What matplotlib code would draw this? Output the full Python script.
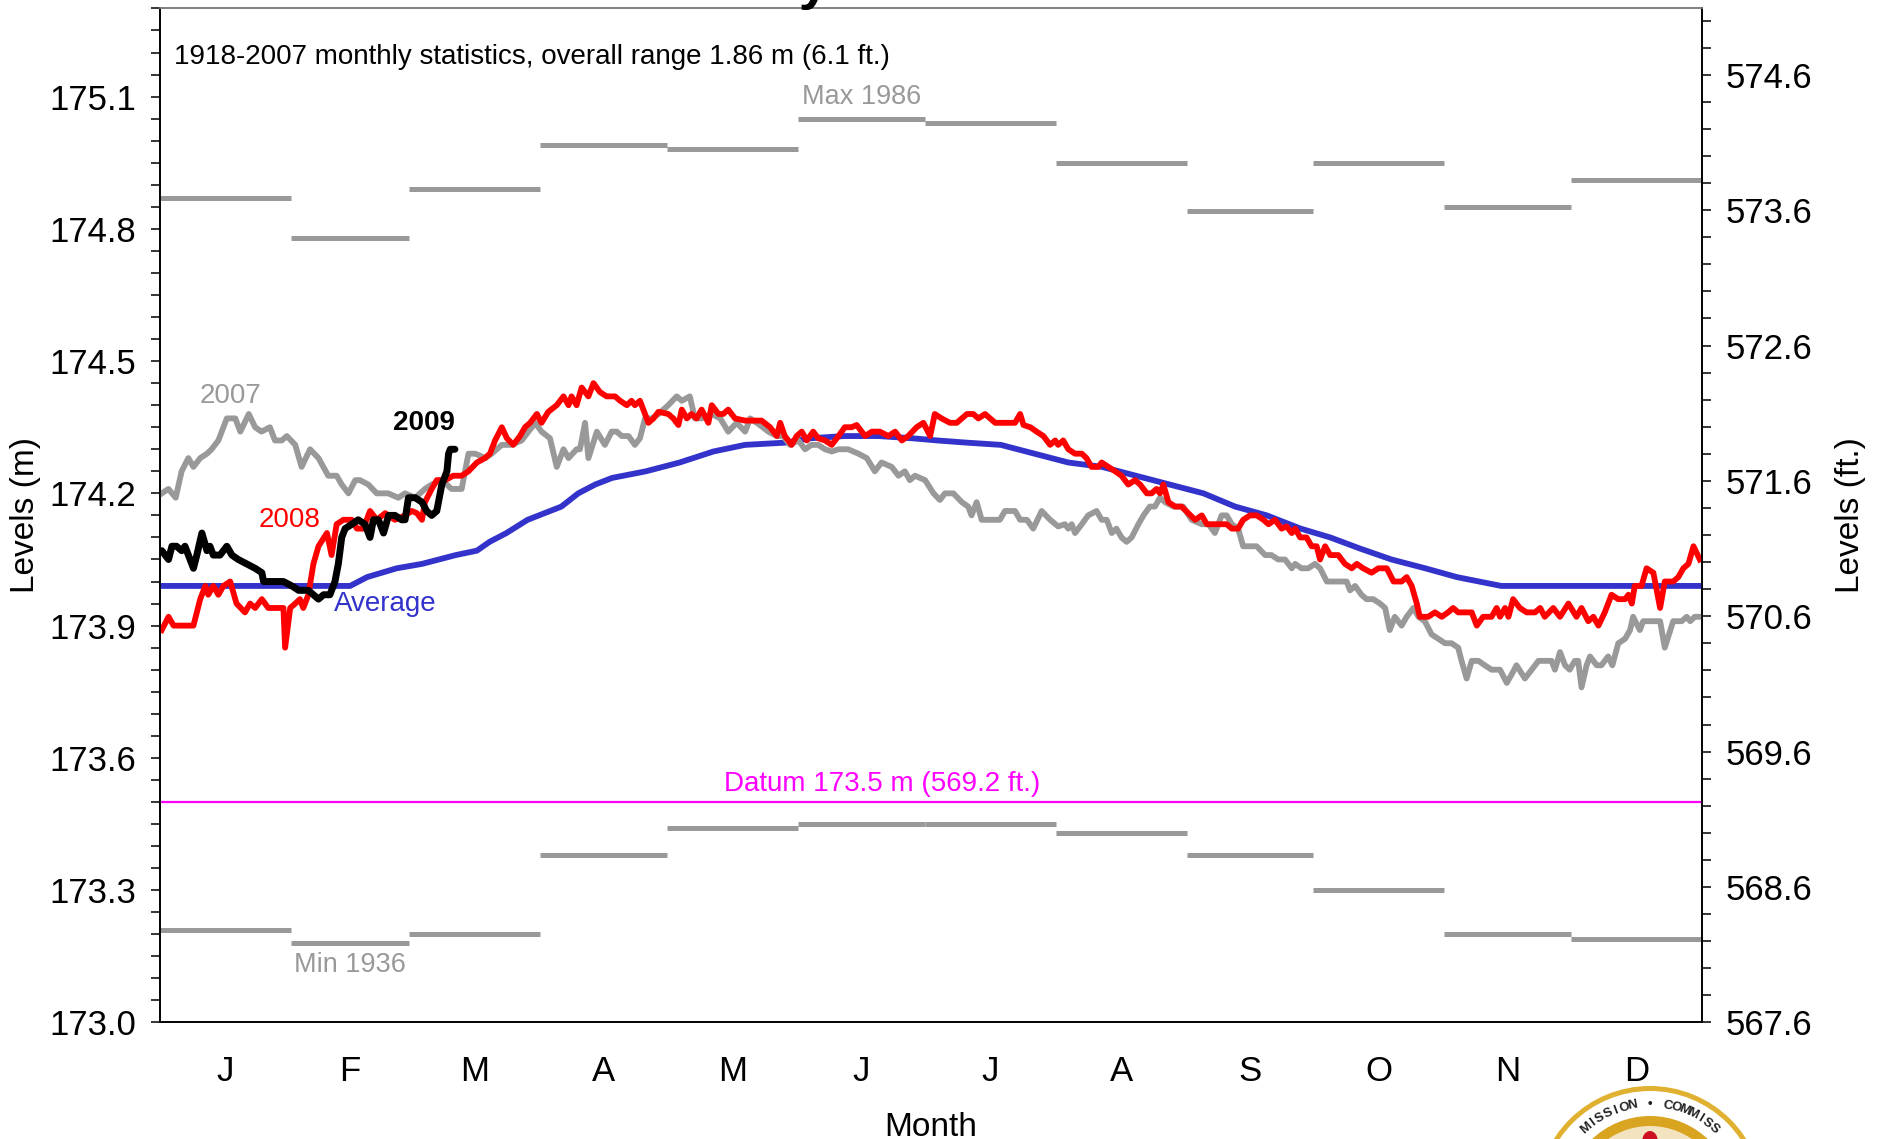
import numpy as np
import matplotlib
matplotlib.use("Agg")
import matplotlib.pyplot as plt
from matplotlib.ticker import FixedLocator, MultipleLocator, FormatStrFormatter
from matplotlib.patches import Ellipse

plt.rcParams['font.family'] = ['Liberation Sans', 'DejaVu Sans']

# month layout (day of year)
months = ['J', 'F', 'M', 'A', 'M', 'J', 'J', 'A', 'S', 'O', 'N', 'D']
month_edges = [0, 31, 59, 90, 120, 151, 181, 212, 243, 273, 304, 334, 365]

# 1918-2007 monthly extremes (m)
max_levels = [174.87, 174.78, 174.89, 174.99, 174.98, 175.05, 175.04, 174.95, 174.84, 174.95, 174.85, 174.91]
min_levels = [173.21, 173.18, 173.20, 173.38, 173.44, 173.45, 173.45, 173.43, 173.38, 173.30, 173.20, 173.19]

# long-term average (day, m)
average = [(0, 173.99), (45, 173.99), (49, 174.01), (56, 174.03), (62, 174.04), (70, 174.06),
           (75, 174.07), (78, 174.09), (82, 174.11), (87, 174.14), (91, 174.155), (95, 174.17),
           (99, 174.20), (103, 174.22), (107, 174.235), (115, 174.25), (123, 174.27), (131, 174.295),
           (138.5, 174.31), (148, 174.315), (154, 174.325), (162, 174.33), (170, 174.33), (178, 174.325),
           (184, 174.32), (191, 174.315), (199, 174.31), (207, 174.29), (215, 174.27), (223, 174.26),
           (231, 174.24), (239, 174.22), (247, 174.20), (254.5, 174.17), (262, 174.15), (270, 174.12),
           (277, 174.10), (284, 174.075), (291.5, 174.05), (299.5, 174.03), (307, 174.01),
           (317.5, 173.99), (365, 173.99)]

# daily levels (day, m)
lvl_2007 = [(0.4, 174.20), (2, 174.21), (3.7, 174.19), (5.1, 174.25), (6.7, 174.28), (7.9, 174.26),
            (9.5, 174.28), (11.1, 174.29), (12.2, 174.30), (13.8, 174.32), (15.8, 174.37), (17.8, 174.37),
            (19, 174.34), (21, 174.38), (22.5, 174.35), (24, 174.34), (26, 174.35), (27.2, 174.32),
            (28.8, 174.32), (30, 174.33), (32, 174.31), (33.5, 174.26), (35.5, 174.30), (37.5, 174.28),
            (39.8, 174.24), (41.8, 174.24), (43, 174.22), (44.6, 174.20), (46.2, 174.23), (47.3, 174.23),
            (49.3, 174.22), (51.3, 174.20), (54, 174.20), (56.4, 174.19), (58, 174.20), (60.4, 174.19),
            (62.7, 174.21), (64.3, 174.22), (66.7, 174.23), (69, 174.21), (71.4, 174.21), (73, 174.29),
            (74.6, 174.29), (77, 174.28), (78.5, 174.29), (80.9, 174.31), (83.2, 174.31), (85.6, 174.32),
            (87.2, 174.34), (88.8, 174.36), (90.3, 174.34), (92.3, 174.325), (93.9, 174.26), (95.5, 174.30),
            (96.7, 174.28), (98.6, 174.30), (99.4, 174.30), (100.6, 174.36), (101.4, 174.28), (103.4, 174.34),
            (105.3, 174.31), (106.9, 174.34), (108.1, 174.34), (109.3, 174.33), (110.9, 174.33), (112.4, 174.31),
            (113.6, 174.325), (114.8, 174.37), (116.4, 174.37), (118, 174.38), (120.3, 174.40), (122.3, 174.42),
            (123.5, 174.41), (125.4, 174.42), (126.6, 174.37), (128.2, 174.37), (130.6, 174.38), (132.6, 174.37),
            (134.5, 174.34), (136.5, 174.36), (138.5, 174.34), (139.7, 174.37), (142, 174.355), (144, 174.34),
            (146, 174.33), (147.5, 174.33), (149.1, 174.31), (151.1, 174.32), (152.7, 174.30), (154.2, 174.31),
            (155.8, 174.31), (157.4, 174.30), (159, 174.295), (160.6, 174.30), (162.9, 174.30), (165.3, 174.29),
            (167.3, 174.28), (169.2, 174.25), (170.8, 174.27), (173.2, 174.26), (174.8, 174.24), (176.3, 174.25),
            (177.5, 174.23), (178.7, 174.24), (181.1, 174.23), (183.1, 174.20), (184.6, 174.185), (185.8, 174.20),
            (187.8, 174.20), (189.8, 174.18), (191.3, 174.17), (192.1, 174.15), (193.3, 174.18), (194.5, 174.14),
            (196.1, 174.14), (198.8, 174.14), (200, 174.16), (202.4, 174.16), (203.6, 174.14), (205.2, 174.14),
            (206.7, 174.12), (208.7, 174.16), (210.7, 174.14), (212.6, 174.125), (214.2, 174.13), (215, 174.12),
            (215.8, 174.13), (216.6, 174.11), (218.2, 174.13), (219.7, 174.15), (221.7, 174.16), (222.9, 174.14),
            (224.1, 174.14), (225.3, 174.11), (226.4, 174.12), (227.6, 174.10), (228.8, 174.09), (230, 174.10),
            (231.6, 174.13), (232.8, 174.15), (234.3, 174.17), (235.5, 174.17), (236.7, 174.19), (237.9, 174.18),
            (239.9, 174.17), (242.2, 174.17), (244.2, 174.14), (246.6, 174.13), (248.2, 174.13), (249.7, 174.11),
            (251.3, 174.15), (252.5, 174.15), (253.7, 174.13), (255.2, 174.12), (256.4, 174.08), (258, 174.08),
            (259.6, 174.08), (261.6, 174.06), (263.1, 174.06), (264.7, 174.05), (266.3, 174.05), (267.9, 174.03),
            (268.7, 174.04), (270.2, 174.03), (271.8, 174.03), (273.4, 174.04), (274.6, 174.03), (276.2, 174.00),
            (278.9, 174.00), (280.9, 174.00), (281.7, 173.98), (282.9, 173.99), (284.4, 173.97), (285.6, 173.96),
            (287.2, 173.96), (288.8, 173.95), (290, 173.94), (291.1, 173.89), (292.3, 173.92), (293.9, 173.90),
            (295.1, 173.92), (296.7, 173.94), (297.9, 173.92), (299.4, 173.91), (301, 173.88), (302.6, 173.87),
            (304.2, 173.86), (305.7, 173.86), (307.3, 173.85), (308.1, 173.82), (309.3, 173.78), (310.5, 173.82),
            (312.1, 173.82), (313.6, 173.81), (315.2, 173.80), (317.2, 173.80), (318.8, 173.77), (320, 173.79),
            (321.1, 173.81), (323.1, 173.78), (324.7, 173.80), (326.3, 173.82), (327.8, 173.82), (329.4, 173.82),
            (330.2, 173.80), (331.4, 173.84), (332.6, 173.81), (333.7, 173.80), (334.9, 173.82), (335.7, 173.82),
            (336.5, 173.76), (337.7, 173.81), (338.5, 173.83), (340.1, 173.81), (341.2, 173.81), (342.8, 173.83),
            (343.8, 173.81), (345.2, 173.86), (346.8, 173.87), (348, 173.89), (348.7, 173.92), (350.3, 173.89),
            (351.1, 173.91), (352.3, 173.91), (353.9, 173.91), (355.1, 173.91), (356.2, 173.85), (358.2, 173.91),
            (360.2, 173.91), (361.4, 173.92), (362.2, 173.91), (363.3, 173.92), (364.5, 173.92)]

lvl_2008 = [(0.4, 173.89), (2, 173.92), (3.2, 173.90), (5.1, 173.90), (7.9, 173.90), (9.5, 173.96),
            (10.7, 173.99), (11.4, 173.97), (12.6, 173.99), (13.8, 173.97), (15, 173.99), (16.6, 174.00),
            (18.1, 173.95), (20.1, 173.93), (21.3, 173.95), (22.5, 173.94), (24.1, 173.96), (25.6, 173.94),
            (28, 173.94), (29.2, 173.94), (29.6, 173.85), (30.8, 173.94), (32, 173.95), (33.1, 173.96),
            (33.9, 173.94), (35.1, 173.97), (36.3, 174.04), (37.5, 174.08), (39.5, 174.11), (40.6, 174.06),
            (41.8, 174.13), (43.4, 174.14), (45.4, 174.14), (46.6, 174.12), (48.1, 174.12), (49.7, 174.16),
            (51.3, 174.14), (53.3, 174.155), (55.6, 174.14), (58, 174.15), (59.6, 174.16), (60.8, 174.155),
            (62, 174.14), (62.7, 174.18), (64.3, 174.21), (65.5, 174.23), (67.5, 174.23), (69.4, 174.24),
            (71.4, 174.24), (73, 174.25), (75, 174.27), (76.9, 174.28), (78.1, 174.29), (79.3, 174.32),
            (80.9, 174.35), (82.1, 174.325), (83.6, 174.31), (85.2, 174.33), (86.4, 174.35), (87.6, 174.36),
            (89.2, 174.38), (90.3, 174.36), (91.9, 174.385), (93.9, 174.40), (95.5, 174.42), (96.7, 174.40),
            (97.4, 174.42), (98.6, 174.40), (99.8, 174.44), (101.4, 174.42), (102.6, 174.45), (104.1, 174.43),
            (105.7, 174.42), (107.7, 174.42), (108.9, 174.41), (110.5, 174.40), (111.6, 174.41), (112.4, 174.40),
            (113.6, 174.41), (114.8, 174.38), (115.6, 174.36), (116.8, 174.37), (118, 174.385), (120.3, 174.38),
            (121.5, 174.37), (122.7, 174.355), (123.5, 174.39), (124.7, 174.37), (125.8, 174.38), (127, 174.37),
            (128.2, 174.39), (129.8, 174.36), (130.6, 174.40), (132.2, 174.38), (133.3, 174.38), (134.5, 174.39),
            (136.1, 174.37), (138.5, 174.365), (142.4, 174.365), (144.4, 174.35), (146, 174.33), (146.8, 174.36),
            (147.9, 174.33), (149.5, 174.31), (150.7, 174.33), (151.9, 174.34), (153.1, 174.32), (154.6, 174.34),
            (155.8, 174.325), (157.4, 174.32), (159, 174.31), (160.6, 174.33), (162.1, 174.35), (163.7, 174.35),
            (164.9, 174.355), (166.9, 174.33), (168.5, 174.34), (170.4, 174.34), (172.4, 174.33), (174, 174.34),
            (175.6, 174.32), (177.1, 174.33), (179.1, 174.35), (180.7, 174.36), (182.3, 174.33), (183.4, 174.38),
            (185, 174.37), (187, 174.36), (188.6, 174.36), (191, 174.38), (192.5, 174.38), (193.7, 174.37),
            (195.3, 174.38), (197.7, 174.36), (200, 174.36), (202.4, 174.36), (203.6, 174.38), (204.4, 174.355),
            (206, 174.35), (207.5, 174.34), (209.1, 174.33), (210.7, 174.31), (211.9, 174.32), (212.6, 174.31),
            (213.8, 174.32), (215, 174.30), (216.6, 174.29), (218.2, 174.29), (219.3, 174.28), (220.5, 174.26),
            (222.1, 174.26), (222.9, 174.27), (224.5, 174.26), (226.1, 174.25), (227.6, 174.24), (229.2, 174.22),
            (230.8, 174.23), (232, 174.22), (233.6, 174.20), (234.7, 174.20), (235.9, 174.21), (236.7, 174.20),
            (237.5, 174.22), (238.7, 174.18), (240.3, 174.17), (241.8, 174.17), (243.4, 174.155), (245, 174.14),
            (246.6, 174.15), (247.8, 174.13), (250.5, 174.13), (252.5, 174.13), (253.7, 174.12), (255.2, 174.12),
            (256.4, 174.14), (258, 174.15), (259.6, 174.15), (261.2, 174.14), (262.4, 174.13), (263.9, 174.14),
            (265.5, 174.12), (266.7, 174.125), (267.9, 174.11), (268.7, 174.12), (269.9, 174.10), (271.4, 174.10),
            (272.6, 174.08), (273.8, 174.08), (274.6, 174.05), (275.8, 174.08), (277, 174.06), (278.9, 174.06),
            (280.5, 174.04), (282.1, 174.03), (283.3, 174.04), (284.8, 174.03), (286.8, 174.02), (288.4, 174.03),
            (290.4, 174.03), (292, 174.00), (293.9, 174.00), (295.1, 174.01), (296.3, 173.99), (297.5, 173.95),
            (298.2, 173.92), (300.2, 173.92), (301.8, 173.93), (303.4, 173.92), (304.9, 173.93), (306.1, 173.94),
            (307.3, 173.93), (310.5, 173.93), (311.7, 173.90), (313.2, 173.92), (315.2, 173.92), (316.4, 173.94),
            (317.2, 173.92), (318.4, 173.94), (319.2, 173.92), (320.3, 173.96), (321.9, 173.94), (323.5, 173.93),
            (325.5, 173.93), (326.7, 173.94), (327.8, 173.92), (329.8, 173.94), (331.4, 173.92), (333.4, 173.95),
            (335.3, 173.92), (336.5, 173.94), (338.1, 173.91), (339.3, 173.92), (340.5, 173.90), (342, 173.93),
            (343.6, 173.97), (345.2, 173.96), (346.8, 173.96), (347.6, 173.97), (348.4, 173.95), (349.1, 173.99),
            (350.7, 173.99), (351.9, 174.03), (353.5, 174.02), (355.1, 173.94), (356.2, 174.00), (358.2, 174.00),
            (359.4, 174.01), (360.6, 174.03), (361.8, 174.04), (363, 174.08), (364.5, 174.05)]

lvl_2009 = [(0.4, 174.07), (2, 174.05), (2.8, 174.08), (3.9, 174.08), (5.1, 174.07), (5.9, 174.08),
            (7.1, 174.05), (7.9, 174.03), (8.7, 174.06), (9.9, 174.11), (11.1, 174.07), (11.8, 174.08),
            (12.6, 174.06), (14.2, 174.06), (15.8, 174.08), (17, 174.06), (18.5, 174.05), (20.5, 174.04),
            (22.5, 174.03), (24.1, 174.02), (24.5, 174.00), (26, 174.00), (29.2, 174.00), (31.2, 173.99),
            (32.8, 173.98), (35.1, 173.98), (36.3, 173.97), (37.5, 173.96), (38.7, 173.97), (40.2, 173.97),
            (41.4, 174.00), (42.2, 174.04), (43, 174.10), (43.8, 174.12), (45.4, 174.13), (46.9, 174.14),
            (48.5, 174.13), (49.7, 174.10), (50.5, 174.14), (51.7, 174.14), (52.9, 174.11), (54.1, 174.15),
            (55.6, 174.15), (57.2, 174.14), (58, 174.14), (58.8, 174.19), (60.4, 174.19), (62, 174.18),
            (63.1, 174.16), (64.3, 174.15), (65.5, 174.16), (66.7, 174.22), (67.9, 174.25), (68.3, 174.29),
            (68.7, 174.30), (69.8, 174.30)]

GRAY = '#999999'
BLUE = '#3333CC'

fig = plt.figure(figsize=(18.81, 11.39), dpi=100)
ax = fig.add_axes([0.0851, 0.1024, 0.8197, 0.8902])

# monthly max / min bars
for i in range(12):
    ax.plot([month_edges[i], month_edges[i + 1]], [max_levels[i]] * 2, color=GRAY, lw=3.6,
            solid_capstyle='butt', zorder=2)
    ax.plot([month_edges[i], month_edges[i + 1]], [min_levels[i]] * 2, color=GRAY, lw=3.6,
            solid_capstyle='butt', zorder=2)

ax.axhline(173.5, color='#FF00FF', lw=1.6, zorder=2)

avg = np.array(average).T
d07 = np.array(lvl_2007).T
d08 = np.array(lvl_2008).T
d09 = np.array(lvl_2009).T
ax.plot(avg[0], avg[1], color=BLUE, lw=4.2, zorder=3)
ax.plot(d07[0], d07[1], color=GRAY, lw=4.2, zorder=4)
ax.plot(d08[0], d08[1], color='#FF0000', lw=4.2, zorder=5)
ax.plot(d09[0], d09[1], color='black', lw=5.0, zorder=6, solid_capstyle='round')

# labels
ax.text(3.3, 175.19, '1918-2007 monthly statistics, overall range 1.86 m (6.1 ft.)',
        fontsize=20, ha='left', va='center')
ax.text(166, 175.10, 'Max 1986', color=GRAY, fontsize=19.5, ha='center', va='center')
ax.text(45, 173.13, 'Min 1936', color=GRAY, fontsize=19.5, ha='center', va='center')
ax.text(16.6, 174.42, '2007', color=GRAY, fontsize=20, ha='center', va='center')
ax.text(30.6, 174.14, '2008', color='#FF0000', fontsize=20, ha='center', va='center')
ax.text(62.4, 174.36, '2009', color='black', fontsize=20, fontweight='bold', ha='center', va='center')
ax.text(41.2, 173.95, 'Average', color=BLUE, fontsize=20, ha='left', va='center')
ax.text(171, 173.54, 'Datum 173.5 m (569.2 ft.)', color='#FF00FF', fontsize=20, ha='center', va='center')

# axes setup
ax.set_xlim(0, 365)
ax.set_ylim(173.0, 175.3)
mids = [(month_edges[i] + month_edges[i + 1]) / 2 for i in range(12)]
ax.set_xticks(mids, months)
ax.tick_params(axis='x', length=0, pad=23.5, labelsize=25)
ax.yaxis.set_major_locator(FixedLocator([173.0, 173.3, 173.6, 173.9, 174.2, 174.5, 174.8, 175.1]))
ax.yaxis.set_minor_locator(MultipleLocator(0.05))
ax.yaxis.set_major_formatter(FormatStrFormatter('%.1f'))
ax.tick_params(axis='y', which='both', direction='out', length=6.5, width=1.1, pad=10.5, labelsize=25)
ax.set_xlabel('Month', fontsize=24, labelpad=17)
ax.set_ylabel('Levels (m)', fontsize=24, labelpad=6)

ax2 = ax.twinx()
ax2.set_ylim(567.6, 575.09)
ax2.yaxis.set_major_locator(FixedLocator([567.6, 568.6, 569.6, 570.6, 571.6, 572.6, 573.6, 574.6]))
ax2.yaxis.set_minor_locator(MultipleLocator(0.2))
ax2.yaxis.set_major_formatter(FormatStrFormatter('%.1f'))
ax2.tick_params(axis='y', which='both', direction='out', length=6.5, width=1.1, pad=10.5, labelsize=25)
ax2.set_ylabel('Levels (ft.)', fontsize=24, labelpad=16)

for a in (ax, ax2):
    for s in a.spines.values():
        s.set_linewidth(1.2)
    a.spines['top'].set_color('#808080')

# title, clipped by the top edge as in the source image
fig.text(435 / 1881, 1 + 1.5 / 1139, 'Lake Erie Daily Levels', fontsize=40, fontweight='bold',
         ha='left', va='baseline')

# seal at bottom right, mostly below the figure edge
cx, cy = 1650 / 1881, 1 - 1200 / 1139
for r, fc in [(114, '#E0B030'), (109, 'white'), (84, '#D9A520'), (74, '#F3E3C0')]:
    fig.add_artist(Ellipse((cx, cy), 2 * r / 1881, 2 * r / 1139, transform=fig.transFigure,
                           facecolor=fc, edgecolor='none'))
fig.add_artist(Ellipse((cx, cy + 58 / 1139), 16 / 1881, 22 / 1139, transform=fig.transFigure,
                       facecolor='#CC1020', edgecolor='none'))
seal_text = 'COMMISSION \u2022 COMMISSION'
step = 5.2
n = len(seal_text)
for k, ch in enumerate(seal_text):
    ang = 90 + (n / 2 - 0.5 - k) * step
    rad = np.deg2rad(ang)
    ty = 1200 - 96 * np.sin(rad)
    if ty > 1131:
        continue
    fig.text(cx + 96 * np.cos(rad) / 1881, cy + 96 * np.sin(rad) / 1139, ch, fontsize=9.5,
             fontweight='bold', color='#222222', ha='center', va='center', rotation=ang - 90)

fig.savefig('out.png', dpi=100)
